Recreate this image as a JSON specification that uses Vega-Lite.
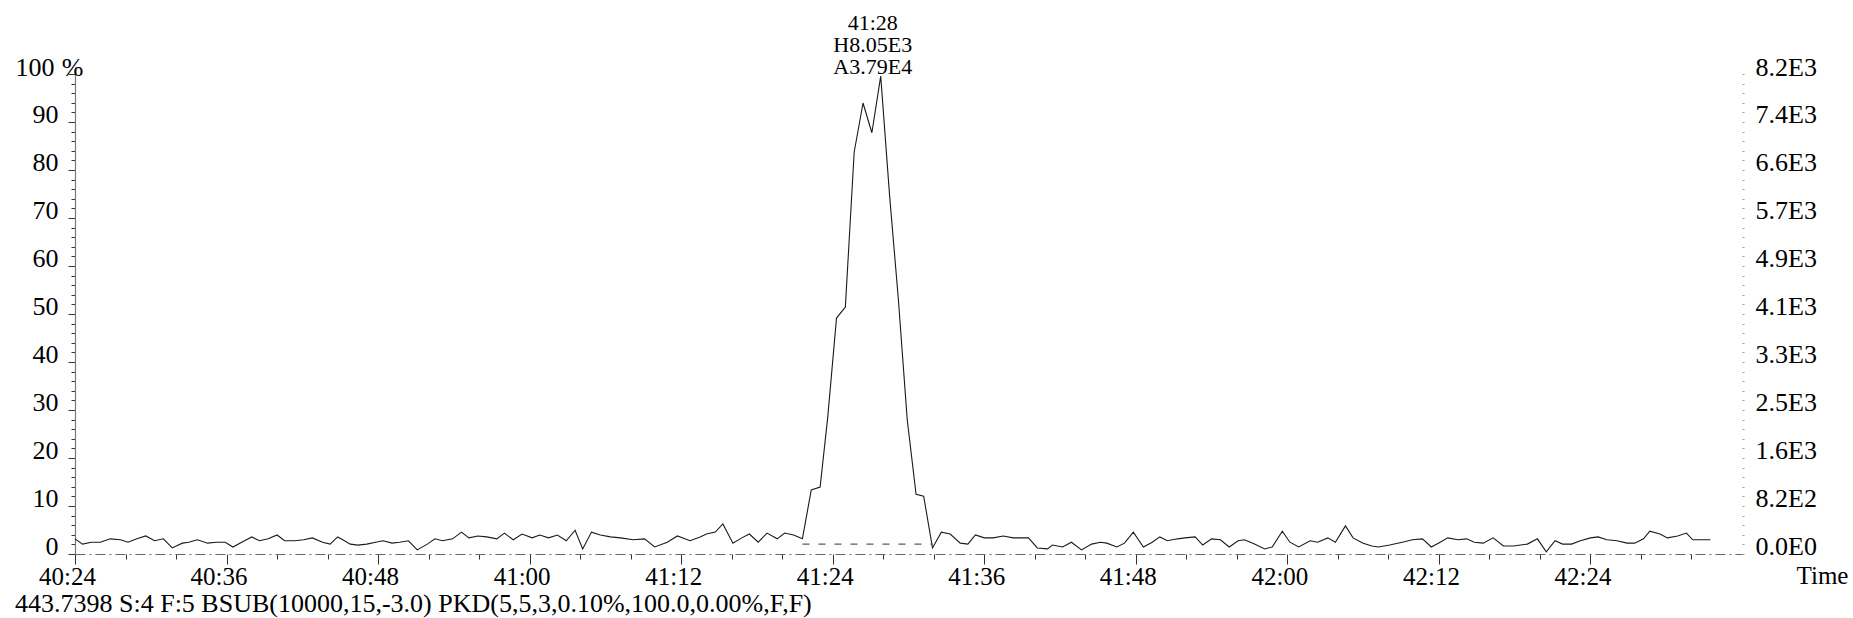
{
  "$schema": "https://vega.github.io/schema/vega-lite/v6.json",
  "width": 1667,
  "height": 487,
  "autosize": {"type": "none"},
  "padding": {"left": 75, "top": 67, "right": 111, "bottom": 64},
  "background": "white",
  "config": {
    "view": {"stroke": null},
    "font": "Liberation Serif",
    "axis": {"labelFont": "Liberation Serif", "titleFont": "Liberation Serif", "labelColor": "black", "titleColor": "black", "titleFontWeight": "normal", "grid": false}
  },
  "title": {
    "text": "443.7398 S:4 F:5 BSUB(10000,15,-3.0) PKD(5,5,3,0.10%,100.0,0.00%,F,F)",
    "orient": "bottom", "anchor": "start", "frame": "group", "dx": -60, "offset": 2,
    "fontSize": 26, "fontWeight": "normal", "font": "Liberation Serif", "color": "black"
  },
  "datasets": {
    "trace": [
      {"t":2424.0,"p":1.7},{"t":2424.6,"p":0.6},{"t":2425.3,"p":1.0},{"t":2426.0,"p":1.0},{"t":2426.8,"p":1.7},
      {"t":2427.6,"p":1.5},{"t":2428.2,"p":1.0},{"t":2428.9,"p":1.7},{"t":2429.6,"p":2.3},{"t":2430.3,"p":1.3},
      {"t":2431.0,"p":1.7},{"t":2431.7,"p":-0.2},{"t":2432.5,"p":0.8},{"t":2433.0,"p":1.0},{"t":2433.7,"p":1.5},
      {"t":2434.5,"p":0.8},{"t":2435.2,"p":1.0},{"t":2435.9,"p":1.0},{"t":2436.5,"p":0.0},{"t":2437.2,"p":1.0},
      {"t":2438.0,"p":2.1},{"t":2438.6,"p":1.3},{"t":2439.3,"p":1.7},{"t":2440.0,"p":2.5},{"t":2440.6,"p":1.3},
      {"t":2441.4,"p":1.3},{"t":2442.1,"p":1.5},{"t":2442.8,"p":1.9},{"t":2443.6,"p":1.0},{"t":2444.2,"p":0.6},
      {"t":2444.8,"p":2.1},{"t":2445.2,"p":1.5},{"t":2445.8,"p":0.6},{"t":2446.4,"p":0.4},{"t":2447.1,"p":0.6},
      {"t":2447.8,"p":1.0},{"t":2448.4,"p":1.3},{"t":2449.1,"p":0.8},{"t":2449.7,"p":1.0},{"t":2450.4,"p":1.3},
      {"t":2451.1,"p":-0.6},{"t":2451.9,"p":0.6},{"t":2452.5,"p":1.7},{"t":2453.1,"p":1.3},{"t":2453.9,"p":1.7},
      {"t":2454.6,"p":3.1},{"t":2455.2,"p":1.9},{"t":2455.9,"p":2.3},{"t":2456.6,"p":2.1},{"t":2457.4,"p":1.7},
      {"t":2458.0,"p":2.9},{"t":2458.7,"p":1.5},{"t":2459.4,"p":2.7},{"t":2460.2,"p":1.9},{"t":2460.8,"p":2.5},
      {"t":2461.5,"p":1.9},{"t":2462.2,"p":2.5},{"t":2462.9,"p":1.3},{"t":2463.6,"p":3.5},{"t":2464.2,"p":-0.4},
      {"t":2464.9,"p":3.1},{"t":2465.6,"p":2.5},{"t":2466.4,"p":2.1},{"t":2467.2,"p":1.9},{"t":2468.2,"p":1.5},
      {"t":2469.1,"p":1.7},{"t":2469.9,"p":0.0},{"t":2470.9,"p":1.0},{"t":2471.7,"p":2.3},{"t":2472.7,"p":1.3},
      {"t":2473.5,"p":2.1},{"t":2474.0,"p":2.7},{"t":2474.7,"p":3.1},{"t":2475.3,"p":4.8},{"t":2476.1,"p":0.8},
      {"t":2476.8,"p":1.9},{"t":2477.4,"p":2.7},{"t":2478.1,"p":1.0},{"t":2478.8,"p":2.9},{"t":2479.6,"p":1.7},
      {"t":2480.2,"p":2.9},{"t":2480.9,"p":2.5},{"t":2481.6,"p":1.7},{"t":2482.3,"p":11.9},{"t":2483.0,"p":12.5},
      {"t":2483.6,"p":26.9},{"t":2484.3,"p":47.7},{"t":2485.0,"p":50.0},{"t":2485.7,"p":82.3},{"t":2486.4,"p":92.5},
      {"t":2487.1,"p":86.3},{"t":2487.8,"p":98.1},{"t":2488.5,"p":73.3},{"t":2489.2,"p":51.5},{"t":2489.9,"p":26.5},
      {"t":2490.6,"p":11.0},{"t":2491.2,"p":10.6},{"t":2491.9,"p":-0.2},{"t":2492.6,"p":3.1},{"t":2493.3,"p":2.7},
      {"t":2494.1,"p":0.8},{"t":2494.7,"p":0.6},{"t":2495.3,"p":2.5},{"t":2496.0,"p":1.9},{"t":2496.7,"p":1.9},
      {"t":2497.5,"p":2.3},{"t":2498.3,"p":1.9},{"t":2499.5,"p":1.9},{"t":2500.2,"p":-0.2},{"t":2501.0,"p":-0.4},
      {"t":2501.4,"p":0.4},{"t":2502.2,"p":0.0},{"t":2502.9,"p":1.0},{"t":2503.7,"p":-0.6},{"t":2504.5,"p":0.6},
      {"t":2505.2,"p":1.0},{"t":2505.7,"p":0.8},{"t":2506.5,"p":0.0},{"t":2507.1,"p":0.8},{"t":2507.8,"p":3.1},
      {"t":2508.6,"p":0.0},{"t":2509.3,"p":1.0},{"t":2509.9,"p":2.1},{"t":2510.5,"p":1.3},{"t":2511.3,"p":1.7},
      {"t":2511.9,"p":1.9},{"t":2512.7,"p":2.1},{"t":2513.3,"p":0.4},{"t":2514.0,"p":1.7},{"t":2514.7,"p":1.5},
      {"t":2515.4,"p":0.0},{"t":2516.1,"p":1.3},{"t":2516.6,"p":1.5},{"t":2517.4,"p":0.6},{"t":2518.2,"p":-0.4},
      {"t":2518.8,"p":0.0},{"t":2519.6,"p":3.3},{"t":2520.2,"p":1.0},{"t":2520.9,"p":0.0},{"t":2521.8,"p":1.3},
      {"t":2522.4,"p":1.0},{"t":2523.2,"p":1.9},{"t":2523.8,"p":1.0},{"t":2524.6,"p":4.4},{"t":2525.2,"p":1.9},
      {"t":2526.0,"p":0.8},{"t":2526.7,"p":0.2},{"t":2527.2,"p":0.0},{"t":2528.1,"p":0.4},{"t":2529.1,"p":1.0},
      {"t":2529.9,"p":1.5},{"t":2530.7,"p":1.7},{"t":2531.4,"p":0.0},{"t":2532.1,"p":1.0},{"t":2532.7,"p":1.9},
      {"t":2533.5,"p":1.5},{"t":2534.2,"p":1.7},{"t":2534.8,"p":1.0},{"t":2535.5,"p":0.8},{"t":2536.3,"p":1.9},
      {"t":2537.1,"p":0.2},{"t":2537.9,"p":0.2},{"t":2539.0,"p":0.6},{"t":2539.8,"p":1.7},{"t":2540.5,"p":-1.0},
      {"t":2541.2,"p":1.3},{"t":2541.8,"p":0.6},{"t":2542.5,"p":0.6},{"t":2543.2,"p":1.3},{"t":2544.0,"p":1.9},
      {"t":2544.6,"p":2.1},{"t":2545.3,"p":1.5},{"t":2546.1,"p":1.3},{"t":2546.9,"p":0.8},{"t":2547.5,"p":0.8},
      {"t":2548.2,"p":1.7},{"t":2548.7,"p":3.3},{"t":2549.5,"p":2.7},{"t":2550.1,"p":1.9},{"t":2550.9,"p":2.3},
      {"t":2551.6,"p":2.9},{"t":2552.1,"p":1.5},{"t":2553.5,"p":1.5}
    ],
    "baseline": [{"t": 2481.6, "t2": 2491.9, "p": 0.6}],
    "peak": [{"t": 2487.8, "p": 98.1, "label": ["41:28", "H8.05E3", "A3.79E4"]}]
  },
  "layer": [
    {
      "data": {"name": "trace"},
      "mark": {"type": "line", "stroke": "#1a1a1a", "strokeWidth": 1.1, "interpolate": "linear"},
      "encoding": {
        "x": {
          "field": "t", "type": "quantitative",
          "scale": {"domain": [2424, 2556], "nice": false, "zero": false},
          "axis": {
            "orient": "bottom",
            "values": [2424,2426,2428,2430,2432,2434,2436,2438,2440,2442,2444,2446,2448,2450,2452,2454,2456,2458,2460,2462,2464,2466,2468,2470,2472,2474,2476,2478,2480,2482,2484,2486,2488,2490,2492,2494,2496,2498,2500,2502,2504,2506,2508,2510,2512,2514,2516,2518,2520,2522,2524,2526,2528,2530,2532,2534,2536,2538,2540,2542,2544,2546,2548,2550,2552,2554],
            "labelExpr": "(datum.value - 2424) % 12 == 0 ? floor(datum.value / 60) + ':' + (datum.value % 60 < 10 ? '0' : '') + (datum.value % 60) : ''",
            "labelFontSize": 25,
            "labelBaseline": "middle",
            "labelPadding": 12,
            "labelOffset": -8,
            "labelOverlap": false,
            "labelBound": false,
            "labelFlush": false,
            "tickColor": "#333",
            "tickWidth": 1,
            "tickSize": {"condition": {"test": "(datum.value - 2424) % 12 == 0", "value": 10}, "value": 5},
            "domainColor": "#666",
            "domainWidth": 1,
            "domainDash": [10, 4, 2, 4],
            "title": "Time",
            "titleFontSize": 25,
            "titleAngle": 0,
            "titleAlign": "center",
            "titleBaseline": "middle",
            "titleX": 1747,
            "titleY": 21
          }
        },
        "y": {
          "field": "p", "type": "quantitative",
          "scale": {"domain": [-1.46, 100], "nice": false, "zero": false},
          "axis": {
            "orient": "left",
            "values": [0,2,4,6,8,10,12,14,16,18,20,22,24,26,28,30,32,34,36,38,40,42,44,46,48,50,52,54,56,58,60,62,64,66,68,70,72,74,76,78,80,82,84,86,88,90,92,94,96,98,100],
            "labelExpr": "datum.value % 10 == 0 ? '' + datum.value : ''",
            "labelFontSize": 26,
            "labelPadding": {"condition": {"test": "datum.value == 100", "value": 14}, "value": 10},
            "labelOverlap": false,
            "labelBound": false,
            "labelFlush": false,
            "tickOffset": 7,
            "labelOffset": -7,
            "tickColor": "#333",
            "tickSize": {"condition": {"test": "datum.value % 10 == 0", "value": 7}, "value": 4},
            "domainColor": "#777",
            "domainWidth": 1.2,
            "title": "%",
            "titleFontSize": 26,
            "titleAngle": 0,
            "titleAlign": "center",
            "titleBaseline": "middle",
            "titleX": -3,
            "titleY": 0
          }
        }
      }
    },
    {
      "data": {"name": "baseline"},
      "mark": {"type": "rule", "stroke": "#333", "strokeWidth": 1, "strokeDash": [7, 9]},
      "encoding": {
        "x": {"field": "t", "type": "quantitative"},
        "x2": {"field": "t2"},
        "y": {
          "field": "p", "type": "quantitative",
          "axis": {
            "orient": "right",
            "values": [0,2,4,6,8,10,12,14,16,18,20,22,24,26,28,30,32,34,36,38,40,42,44,46,48,50,52,54,56,58,60,62,64,66,68,70,72,74,76,78,80,82,84,86,88,90,92,94,96,98,100],
            "labelExpr": "datum.value % 10 == 0 ? ['0.0E0','8.2E2','1.6E3','2.5E3','3.3E3','4.1E3','4.9E3','5.7E3','6.6E3','7.4E3','8.2E3'][round(datum.value / 10)] : ''",
            "labelFontSize": 26,
            "labelPadding": 11,
            "labelOverlap": false,
            "labelBound": false,
            "labelFlush": false,
            "tickOffset": 7,
            "labelOffset": -7,
            "tickSize": 2,
            "tickColor": "#999",
            "domain": false,
            "title": null
          }
        }
      }
    },
    {
      "data": {"name": "peak"},
      "mark": {"type": "text", "align": "center", "baseline": "bottom", "dx": -8, "dy": -41, "fontSize": 22, "lineHeight": 22, "font": "Liberation Serif", "color": "black"},
      "encoding": {
        "x": {"field": "t", "type": "quantitative"},
        "y": {"field": "p", "type": "quantitative", "axis": null},
        "text": {"field": "label"}
      }
    }
  ],
  "resolve": {"axis": {"y": "independent"}}
}
